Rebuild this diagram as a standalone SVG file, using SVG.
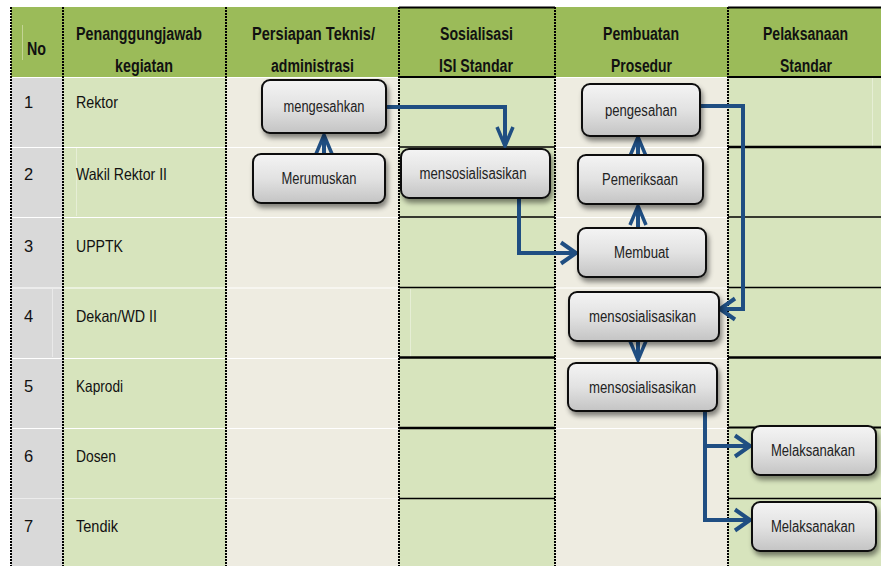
<svg xmlns="http://www.w3.org/2000/svg" width="881" height="566" viewBox="0 0 881 566">
  <style>
    .hdr { font-family: "Liberation Sans Narrow", "Arial Narrow", "Liberation Sans", Arial, sans-serif; font-weight: bold; font-size: 17.5px; fill: #111; }
    .cell { font-family: "Liberation Sans Narrow", "Arial Narrow", "Liberation Sans", Arial, sans-serif; font-size: 16.5px; fill: #111; }
    .nt { font-family: "Liberation Sans Narrow", "Arial Narrow", "Liberation Sans", Arial, sans-serif; font-size: 16px; fill: #222; text-anchor: middle; }
    .box { fill: url(#boxFill); stroke: #111; stroke-width: 2; filter: url(#shadow); }
    .conn { fill: none; stroke: #1F4E82; stroke-width: 4; stroke-linejoin: miter; }
    .dot { stroke: #000; stroke-width: 2; stroke-dasharray: 2 1; }
    .sep { stroke: #FFFFFF; stroke-width: 1.2; }
    .blk { stroke: #000; }
    .ghost { stroke-width: 1; }
  </style>
  <defs>
    <linearGradient id="boxFill" x1="0" y1="0" x2="0" y2="1">
      <stop offset="0" stop-color="#F4F4F4"/>
      <stop offset="0.5" stop-color="#E2E2E2"/>
      <stop offset="1" stop-color="#C4C4C4"/>
    </linearGradient>
    <filter id="shadow" x="-15%" y="-20%" width="135%" height="160%">
      <feDropShadow dx="2" dy="4" stdDeviation="2.5" flood-color="#000" flood-opacity="0.45"/>
    </filter>
    <!-- open V heads: long/narrow for vertical runs, short/wide for horizontal runs -->
    <marker id="tipLong" viewBox="0 0 22 18" markerWidth="22" markerHeight="18" refX="20" refY="9" orient="auto" markerUnits="userSpaceOnUse" overflow="visible">
      <path d="M1,1 L20,9 L1,17" fill="none" stroke="#1F4E82" stroke-width="3.5"/>
    </marker>
    <marker id="tipWide" viewBox="0 0 18 24" markerWidth="18" markerHeight="24" refX="16" refY="12" orient="auto" markerUnits="userSpaceOnUse" overflow="visible">
      <path d="M1,1.5 L16,12 L1,22.5" fill="none" stroke="#1F4E82" stroke-width="4"/>
    </marker>
  </defs>

  <!-- table background -->
  <g id="table">
    <rect x="0" y="0" width="881" height="566" fill="#FFFFFF"/>
    <rect x="11" y="7" width="870" height="70" fill="#9BBB59"/>
    <rect x="11" y="77" width="52" height="489" fill="#D9D9D9"/>
    <rect x="63" y="77" width="163" height="489" fill="#D7E4BD"/>
    <rect x="226" y="77" width="173" height="489" fill="#EEECE1"/>
    <rect x="399" y="77" width="156" height="489" fill="#D7E4BD"/>
    <rect x="555" y="77" width="173" height="489" fill="#EEECE1"/>
    <rect x="728" y="77" width="153" height="489" fill="#D7E4BD"/>

    <!-- faint cell seams -->
    <line class="ghost" x1="22.5" y1="25" x2="22.5" y2="60" stroke="#C3D494"/>
    <line class="ghost" x1="52.5" y1="289" x2="52.5" y2="357" stroke="#E9E9E9"/>
    <line class="ghost" x1="76.5" y1="148" x2="76.5" y2="216" stroke="#E6EED5"/>
    <line class="ghost" x1="410.5" y1="289" x2="410.5" y2="357" stroke="#E6EED5"/>
    <line class="ghost" x1="872.5" y1="78" x2="872.5" y2="146" stroke="#E6EED5"/>

    <!-- white row separators -->
    <line class="sep" x1="11" y1="77.5" x2="399" y2="77.5"/>
    <line class="sep" x1="555" y1="77.5" x2="728" y2="77.5"/>
    <g class="sep">
      <line x1="11" y1="147.5" x2="399" y2="147.5"/>
      <line x1="555" y1="147.5" x2="728" y2="147.5"/>
      <line x1="11" y1="217.5" x2="399" y2="217.5"/>
      <line x1="555" y1="217.5" x2="728" y2="217.5"/>
      <line x1="11" y1="288" x2="399" y2="288"/>
      <line x1="555" y1="288" x2="728" y2="288"/>
      <line x1="11" y1="358.5" x2="399" y2="358.5"/>
      <line x1="555" y1="358.5" x2="728" y2="358.5"/>
      <line x1="11" y1="428.5" x2="399" y2="428.5"/>
      <line x1="555" y1="428.5" x2="728" y2="428.5"/>
      <line x1="11" y1="498.5" x2="399" y2="498.5" stroke-opacity="0.5"/>
    </g>

    <!-- black rules of the boxed columns -->
    <g class="blk">
      <line x1="399" y1="7.5" x2="555" y2="7.5" stroke-width="2"/>
      <line x1="399" y1="77" x2="555" y2="77" stroke-width="2"/>
      <line x1="399" y1="147" x2="555" y2="147" stroke-width="1.6"/>
      <line x1="399" y1="217" x2="555" y2="217" stroke-width="1.6"/>
      <line x1="399" y1="287.5" x2="555" y2="287.5" stroke-width="1.6"/>
      <line x1="399" y1="357.5" x2="555" y2="357.5" stroke-width="2.5"/>
      <line x1="399" y1="428" x2="555" y2="428" stroke-width="2.5"/>
      <line x1="399" y1="498.5" x2="555" y2="498.5" stroke-width="1.6"/>

      <line x1="728" y1="7.5" x2="881" y2="7.5" stroke-width="2"/>
      <line x1="728" y1="77" x2="881" y2="77" stroke-width="2"/>
      <line x1="728" y1="147" x2="881" y2="147" stroke-width="2.5"/>
      <line x1="728" y1="217" x2="881" y2="217" stroke-width="1.3"/>
      <line x1="728" y1="287.5" x2="881" y2="287.5" stroke-width="1.3"/>
      <line x1="728" y1="357.5" x2="881" y2="357.5" stroke-width="2.5"/>
      <line x1="728" y1="427.5" x2="881" y2="427.5" stroke-width="2"/>
      <line x1="728" y1="498.5" x2="881" y2="498.5" stroke-width="1.6"/>
    </g>

    <!-- dotted column borders -->
    <g class="dot">
      <line x1="11" y1="7" x2="11" y2="566"/>
      <line x1="63" y1="7" x2="63" y2="566"/>
      <line x1="226" y1="7" x2="226" y2="566"/>
      <line x1="399" y1="7" x2="399" y2="566"/>
      <line x1="555" y1="7" x2="555" y2="566"/>
      <line x1="728" y1="7" x2="728" y2="566"/>
    </g>

    <!-- header texts -->
    <text class="hdr" x="27" y="55" textLength="19" lengthAdjust="spacingAndGlyphs">No</text>
    <text class="hdr" x="76" y="40" textLength="126" lengthAdjust="spacingAndGlyphs">Penanggungjawab</text>
    <text class="hdr" x="115" y="72" textLength="58" lengthAdjust="spacingAndGlyphs">kegiatan</text>
    <text class="hdr" x="252" y="40" textLength="123" lengthAdjust="spacingAndGlyphs">Persiapan Teknis/</text>
    <text class="hdr" x="271" y="72" textLength="83" lengthAdjust="spacingAndGlyphs">administrasi</text>
    <text class="hdr" x="440" y="40" textLength="73" lengthAdjust="spacingAndGlyphs">Sosialisasi</text>
    <text class="hdr" x="439" y="72" textLength="74" lengthAdjust="spacingAndGlyphs">ISI Standar</text>
    <text class="hdr" x="603" y="40" textLength="76" lengthAdjust="spacingAndGlyphs">Pembuatan</text>
    <text class="hdr" x="611" y="72" textLength="61" lengthAdjust="spacingAndGlyphs">Prosedur</text>
    <text class="hdr" x="763" y="40" textLength="85" lengthAdjust="spacingAndGlyphs">Pelaksanaan</text>
    <text class="hdr" x="780" y="72" textLength="52" lengthAdjust="spacingAndGlyphs">Standar</text>

    <!-- row texts -->
    <text class="cell" x="24" y="108">1</text>
    <text class="cell" x="76" y="108" textLength="42" lengthAdjust="spacingAndGlyphs">Rektor</text>
    <text class="cell" x="24" y="180">2</text>
    <text class="cell" x="76" y="180" textLength="91" lengthAdjust="spacingAndGlyphs">Wakil Rektor II</text>
    <text class="cell" x="24" y="252">3</text>
    <text class="cell" x="76" y="252" textLength="47" lengthAdjust="spacingAndGlyphs">UPPTK</text>
    <text class="cell" x="24" y="322">4</text>
    <text class="cell" x="76" y="322" textLength="81" lengthAdjust="spacingAndGlyphs">Dekan/WD II</text>
    <text class="cell" x="24" y="392">5</text>
    <text class="cell" x="76" y="392" textLength="47" lengthAdjust="spacingAndGlyphs">Kaprodi</text>
    <text class="cell" x="24" y="462">6</text>
    <text class="cell" x="76" y="462" textLength="40" lengthAdjust="spacingAndGlyphs">Dosen</text>
    <text class="cell" x="24" y="532">7</text>
    <text class="cell" x="76" y="532" textLength="42" lengthAdjust="spacingAndGlyphs">Tendik</text>
  </g>

  <!-- connectors -->
  <g id="connectors" class="conn">
    <path d="M386,107 H505 V146" marker-end="url(#tipLong)"/>
    <path d="M324,154 V135" marker-end="url(#tipLong)"/>
    <path d="M519,198 V253 H576" marker-end="url(#tipWide)"/>
    <path d="M638,228 V206" marker-end="url(#tipLong)"/>
    <path d="M638,155 V137" marker-end="url(#tipLong)"/>
    <path d="M700,106 H743 V309 H720" marker-end="url(#tipWide)"/>
    <path d="M638,341 V360" marker-end="url(#tipLong)"/>
    <path d="M705,410 V520 H750" marker-end="url(#tipWide)"/>
    <path d="M705,446 H750" marker-end="url(#tipWide)"/>
  </g>

  <!-- process steps -->
  <g id="n-mengesahkan">
    <rect class="box" x="262" y="80" width="124" height="53" rx="8"/>
    <text class="nt" x="324" y="112" textLength="81" lengthAdjust="spacingAndGlyphs">mengesahkan</text>
  </g>
  <g id="n-merumuskan">
    <rect class="box" x="253" y="154" width="132" height="49" rx="8"/>
    <text class="nt" x="319" y="184" textLength="75" lengthAdjust="spacingAndGlyphs">Merumuskan</text>
  </g>
  <g id="n-sosialisasi">
    <rect class="box" x="401" y="149" width="149" height="49" rx="8"/>
    <text class="nt" x="473" y="179" textLength="107" lengthAdjust="spacingAndGlyphs">mensosialisasikan</text>
  </g>
  <g id="n-pengesahan">
    <rect class="box" x="582" y="84" width="118" height="52" rx="8"/>
    <text class="nt" x="641" y="115.5" textLength="72" lengthAdjust="spacingAndGlyphs">pengesahan</text>
  </g>
  <g id="n-pemeriksaan">
    <rect class="box" x="578" y="155" width="125" height="49" rx="8"/>
    <text class="nt" x="640" y="185" textLength="76" lengthAdjust="spacingAndGlyphs">Pemeriksaan</text>
  </g>
  <g id="n-membuat">
    <rect class="box" x="578" y="228" width="128" height="49" rx="8"/>
    <text class="nt" x="641.5" y="258" textLength="55" lengthAdjust="spacingAndGlyphs">Membuat</text>
  </g>
  <g id="n-sosialisasi-dekan">
    <rect class="box" x="569" y="292" width="150" height="49" rx="8"/>
    <text class="nt" x="642.5" y="322" textLength="107" lengthAdjust="spacingAndGlyphs">mensosialisasikan</text>
  </g>
  <g id="n-sosialisasi-kaprodi">
    <rect class="box" x="568" y="363" width="149" height="48" rx="8"/>
    <text class="nt" x="642.5" y="392.5" textLength="107" lengthAdjust="spacingAndGlyphs">mensosialisasikan</text>
  </g>
  <g id="n-melaksanakan-dosen">
    <rect class="box" x="752" y="426" width="124" height="49" rx="8"/>
    <text class="nt" x="813" y="456" textLength="84" lengthAdjust="spacingAndGlyphs">Melaksanakan</text>
  </g>
  <g id="n-melaksanakan-tendik">
    <rect class="box" x="752" y="502" width="124" height="49" rx="8"/>
    <text class="nt" x="813" y="532" textLength="84" lengthAdjust="spacingAndGlyphs">Melaksanakan</text>
  </g>
</svg>
